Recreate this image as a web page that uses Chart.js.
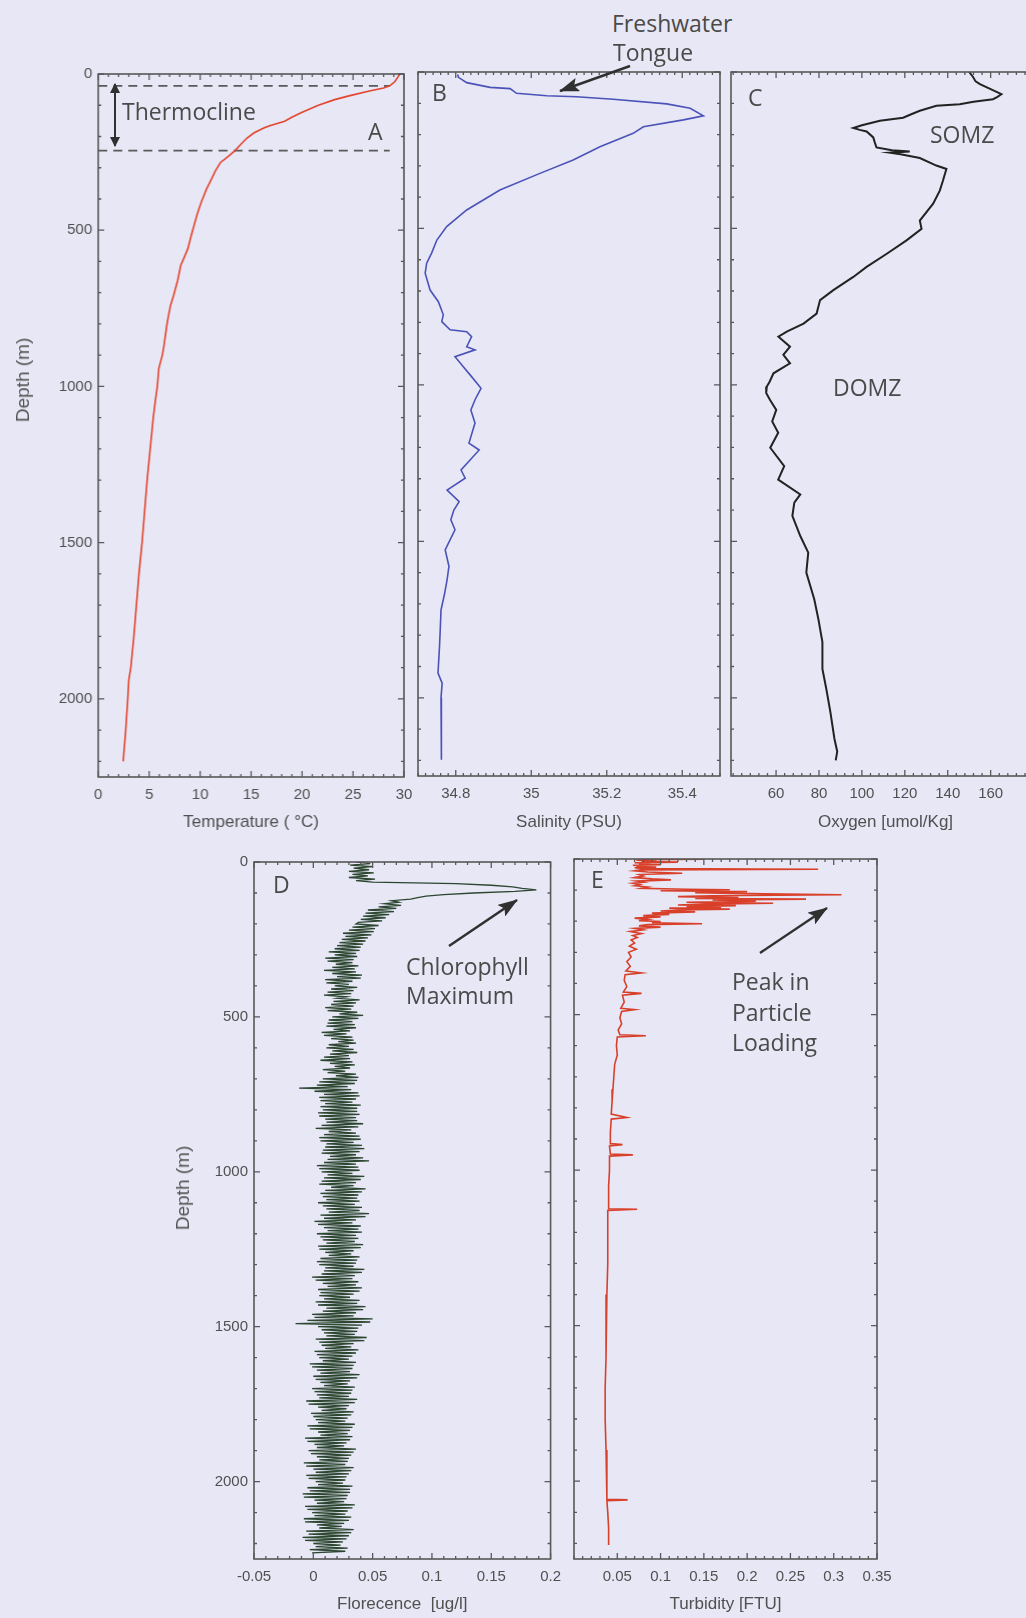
<!DOCTYPE html>
<html><head><meta charset="utf-8">
<script src="https://cdn.jsdelivr.net/npm/chart.js@4/dist/chart.umd.min.js"></script>
<style>
html,body{margin:0;padding:0;background:#e7e7f6;width:1026px;height:1618px;overflow:hidden;position:relative;}
canvas{position:absolute;}
.ann{position:absolute;font-family:"Open Sans",sans-serif;font-size:23px;line-height:23px;color:#4a4a4a;white-space:nowrap;}
.ylab{position:absolute;font-family:"Liberation Sans",Arial,sans-serif;font-size:19px;color:#555;white-space:nowrap;transform:translate(-50%,-50%) rotate(-90deg);}
#arrows{position:absolute;left:0;top:0;pointer-events:none;}
</style></head><body>
<script>
// ---------------- DATA ----------------
const depthTicks = [0, 500, 1000, 1500, 2000];

// Panel A : temperature
const tempDepth = [0,10,25,38,45,55,70,82,100,124,140,151,165,172,188,205,225,246,265,283,310,337,370,411,450,485,520,559,590,612,660,708,740,772,800,835,870,899,942,1000,1048,1100,1150,1200,1300,1400,1500,1600,1700,1800,1900,1940,2000,2100,2200];
const tempValues = [29.6,29.4,29.1,28.6,28.0,26.5,24.6,23.2,21.6,19.9,18.9,18.3,16.9,16.3,15.3,14.6,14.0,13.4,12.7,12.0,11.5,11.1,10.6,10.1,9.7,9.4,9.1,8.8,8.4,8.1,7.8,7.4,7.1,6.9,6.75,6.6,6.45,6.3,5.95,5.8,5.6,5.4,5.25,5.1,4.8,4.55,4.3,4.0,3.75,3.5,3.2,3.0,2.9,2.7,2.45];
const tempTicks = [0, 5, 10, 15, 20, 25, 30];
const thermoclineDepths = [38, 245];
const thermoclineSpan = [0, 28.6];

// Panel B : salinity
const salDepth = [8,17,34,49,53,68,76,79,87,102,116,140,153,175,196,239,281,324,377,441,494,537,579,611,643,697,734,776,798,824,830,846,878,888,910,942,968,1000,1011,1045,1080,1122,1186,1208,1240,1272,1298,1336,1373,1400,1431,1463,1527,1580,1623,1670,1719,1780,1836,1921,1953,2000,2049,2198];
const salValues = [34.805,34.807,34.829,34.891,34.944,34.961,35.041,35.120,35.217,35.359,35.421,35.456,35.403,35.297,35.270,35.182,35.111,35.023,34.917,34.829,34.776,34.750,34.736,34.723,34.719,34.732,34.754,34.767,34.763,34.785,34.829,34.842,34.829,34.851,34.798,34.820,34.838,34.860,34.867,34.852,34.840,34.851,34.835,34.862,34.838,34.814,34.825,34.777,34.809,34.795,34.787,34.798,34.772,34.782,34.777,34.770,34.761,34.759,34.757,34.753,34.764,34.761,34.762,34.762];
const salTicks = [34.8, 35, 35.2, 35.4];

// Panel C : oxygen
const oxyDepth = [0,16,30,39,55,71,80,87,95,103,108,124,135,146,156,170,179,185,190,209,225,241,250,254,258,263,275,299,310,330,347,379,421,475,501,538,581,623,655,697,729,772,804,830,846,878,904,931,963,990,1005,1026,1048,1080,1117,1153,1201,1260,1303,1350,1376,1419,1483,1536,1600,1685,1748,1822,1908,1971,2045,2131,2172,2200];
const oxyValues = [150,151.8,153,155,160,165,163,161.1,152,145.6,134.7,127,123,119.2,108.4,100,96,99,102.2,105.3,106,106.8,114,122.3,113,118,127,134.7,139.4,138.5,137.8,136.3,133.2,127,127.8,120.8,111.6,102.2,96,86.7,80.5,78.9,72.8,65,61.1,66.5,63.4,66.5,58.8,57,55.7,55.4,57.2,60.1,58.2,61,57.3,63.8,61,71.3,68.5,67.6,71.3,75,74.1,77.8,79.7,81.6,81.6,83.4,85.3,87.2,88.5,87.8];
const oxyTicks = [60, 80, 100, 120, 140, 160];

// Panel D : fluorescence, one reading every 5 m from the surface
const fluorStartDepth = 0;
const fluorDepthStep = 5;
const fluorValues = [
 0.036,0.048,0.031,0.050,0.034,0.047,0.030,0.051,0.033,0.046,
 0.030,0.052,0.036,0.050,0.120,0.150,0.168,0.176,0.188,0.170,
 0.135,0.110,0.095,0.088,0.082,0.066,0.072,0.060,0.074,0.055,
 0.070,0.046,0.068,0.044,0.064,0.042,0.061,0.040,0.058,0.038,
 0.036,0.055,0.033,0.052,0.030,0.051,0.025,0.049,0.027,0.046,
 0.024,0.044,0.022,0.042,0.020,0.040,0.018,0.039,0.013,0.036,
 0.018,0.037,0.010,0.034,0.012,0.033,0.019,0.038,0.016,0.035,
 0.009,0.036,0.016,0.041,0.020,0.040,0.010,0.033,0.011,0.030,
 0.018,0.037,0.015,0.034,0.012,0.032,0.009,0.028,0.020,0.039,
 0.017,0.036,0.015,0.034,0.010,0.032,0.012,0.037,0.022,0.042,
 0.016,0.038,0.013,0.033,0.012,0.035,0.011,0.036,0.017,0.031,
 0.007,0.028,0.009,0.033,0.015,0.034,0.021,0.036,0.013,0.030,
 0.011,0.034,0.016,0.037,0.014,0.030,0.009,0.031,0.006,0.033,
 0.014,0.035,0.018,0.031,0.008,0.027,0.012,0.036,0.019,0.038,
 0.008,0.037,0.005,0.035,0.003,0.029,-0.012,0.032,0.001,0.038,
 0.009,0.039,0.005,0.036,0.006,0.033,0.010,0.040,0.006,0.037,
 0.008,0.037,0.004,0.039,0.005,0.036,0.010,0.037,0.011,0.042,
 0.007,0.038,0.002,0.032,0.013,0.036,0.009,0.039,0.005,0.040,
 0.006,0.034,0.011,0.041,0.010,0.043,0.008,0.039,0.007,0.036,
 0.014,0.042,0.012,0.047,0.009,0.036,0.003,0.038,0.005,0.039,
 0.007,0.033,0.012,0.043,0.009,0.040,0.007,0.036,0.005,0.034,
 0.015,0.044,0.010,0.041,0.006,0.038,0.008,0.037,0.011,0.039,
 0.004,0.035,0.008,0.041,0.011,0.039,0.013,0.047,0.006,0.044,
 0.009,0.036,0.001,0.033,0.004,0.040,0.009,0.038,0.012,0.041,
 0.003,0.036,0.006,0.038,0.008,0.035,0.011,0.042,0.004,0.040,
 0.005,0.034,0.010,0.032,0.013,0.039,0.006,0.037,0.003,0.036,
 0.005,0.034,0.010,0.043,0.009,0.041,0.007,0.035,-0.001,0.033,
 0.002,0.038,0.008,0.036,0.012,0.041,0.004,0.039,0.006,0.034,
 0.005,0.031,0.009,0.039,0.002,0.037,0.004,0.044,0.011,0.042,
 0.008,0.036,-0.001,0.034,0.001,0.050,-0.005,0.048,-0.015,0.041,
 0.004,0.038,0.007,0.037,0.009,0.035,0.011,0.045,0.002,0.043,
 0.005,0.034,0.007,0.032,0.010,0.038,0.001,0.036,0.003,0.033,
 0.005,0.030,0.008,0.036,-0.003,0.034,-0.001,0.033,0.003,0.031,
 0.006,0.039,0.000,0.037,0.002,0.031,0.006,0.029,0.009,0.035,
 -0.001,0.033,0.001,0.032,0.003,0.030,0.005,0.037,-0.006,0.035,
 -0.004,0.030,0.004,0.028,0.007,0.034,-0.002,0.032,0.000,0.029,
 0.002,0.027,0.004,0.035,-0.005,0.033,-0.003,0.031,0.004,0.029,
 0.006,0.033,-0.007,0.031,-0.005,0.028,0.001,0.026,0.003,0.036,
 -0.004,0.034,-0.002,0.032,0.003,0.030,0.005,0.029,-0.008,0.027,
 -0.006,0.034,0.000,0.032,0.002,0.030,-0.006,0.028,-0.004,0.027,
 0.002,0.025,0.004,0.033,-0.005,0.031,-0.003,0.031,-0.009,0.029,
 -0.008,0.028,0.001,0.026,0.003,0.035,-0.007,0.033,-0.005,0.029,
 -0.001,0.027,0.001,0.032,-0.008,0.030,-0.007,0.026,0.003,0.024,
 0.005,0.034,-0.006,0.032,-0.004,0.030,-0.009,0.028,-0.007,0.025,
 0.000,0.023,0.002,0.029,-0.003,0.027,-0.001];
const fluorTicks = [-0.05, 0, 0.05, 0.1, 0.15, 0.2];

// Panel E : turbidity
const turbDepth = [0,1,2,4,6,8,10,12,14,16,18,20,22,24,26,28,31,33,35,38,42,46,50,55,60,64,67,71,75,78,82,86,90,94,97,99,102,105,108,112,115,118,121,124,127,129,132,136,139,142,145,148,150,153,156,158,161,164,167,170,174,178,182,186,190,194,198,201,205,208,211,215,219,223,228,233,240,246,252,260,270,280,290,300,315,330,345,360,366,372,390,410,428,432,438,460,480,484,490,510,530,550,565,568,572,600,630,660,700,740,780,820,831,836,880,915,918,922,948,951,955,1000,1050,1100,1124,1126,1130,1200,1300,1400,1500,1600,1700,1800,1900,2000,2058,2060,2063,2100,2150,2205];
const turbValues = [0.085,0.15,0.08,0.072,0.095,0.078,0.12,0.07,0.088,0.075,0.1,0.068,0.083,0.072,0.095,0.07,0.08,0.282,0.078,0.07,0.085,0.125,0.075,0.08,0.07,0.09,0.112,0.072,0.08,0.068,0.076,0.07,0.085,0.078,0.13,0.18,0.1,0.2,0.14,0.22,0.309,0.16,0.12,0.19,0.14,0.268,0.16,0.21,0.13,0.23,0.15,0.12,0.187,0.13,0.17,0.11,0.18,0.12,0.1,0.14,0.09,0.11,0.08,0.1,0.07,0.085,0.075,0.1,0.09,0.148,0.085,0.075,0.1,0.07,0.08,0.065,0.078,0.068,0.073,0.066,0.07,0.064,0.072,0.063,0.066,0.061,0.065,0.06,0.078,0.059,0.058,0.061,0.057,0.078,0.056,0.058,0.054,0.07,0.055,0.053,0.055,0.051,0.053,0.083,0.05,0.049,0.05,0.047,0.046,0.045,0.044,0.043,0.061,0.043,0.042,0.042,0.056,0.041,0.042,0.068,0.041,0.041,0.040,0.040,0.040,0.073,0.039,0.039,0.039,0.038,0.037,0.037,0.036,0.036,0.037,0.038,0.038,0.062,0.038,0.039,0.040,0.040];
const turbTicks = [0.05, 0.1, 0.15, 0.2, 0.25, 0.3, 0.35];

// ---------------- RENDERING ----------------
const FONT = '"Liberation Sans", Arial, Helvetica, sans-serif';
Chart.defaults.font.family = FONT;

const framePlugin = {
  id: 'frame',
  afterDraw(chart, args, opts) {
    const {ctx, chartArea: a} = chart;
    const xs = chart.scales.x, ys = chart.scales.y;
    ctx.save();
    ctx.strokeStyle = '#585858';
    ctx.lineWidth = 1.6;
    ctx.strokeRect(a.left, a.top, a.right - a.left, a.bottom - a.top);
    ctx.lineWidth = 1.3;
    ctx.beginPath();
    const xM = xs.ticks.map(t => t.value), yM = ys.ticks.map(t => t.value);
    for (let i = 0; i < 500; i++) {
      const v = opts.xStart + i * opts.xStep;
      if (v > xs.max + 1e-9) break;
      if (v < xs.min - 1e-9) continue;
      const p = xs.getPixelForValue(v);
      const len = xM.some(m => Math.abs(m - v) < opts.xStep / 10) ? 6 : 3;
      ctx.moveTo(p, a.bottom); ctx.lineTo(p, a.bottom - len);
      ctx.moveTo(p, a.top); ctx.lineTo(p, a.top + len);
    }
    for (let i = 0; i < 500; i++) {
      const v = i * opts.yStep;
      if (v > ys.max + 1e-9) break;
      const p = ys.getPixelForValue(v);
      const len = yM.some(m => Math.abs(m - v) < 1) ? 6 : 3;
      ctx.moveTo(a.left, p); ctx.lineTo(a.left + len, p);
      ctx.moveTo(a.right, p); ctx.lineTo(a.right - len, p);
    }
    ctx.stroke();
    ctx.restore();
  }
};

function profile(depths, values) {
  return depths.map((d, i) => ({x: values[i], y: d}));
}

function makePanel(g) {
  const c = document.createElement('canvas');
  const w = g.right - g.left + g.padL + g.padR;
  const h = g.bottom - g.top + g.padT + g.padB;
  c.width = w; c.height = h;
  c.style.left = (g.left - g.padL) + 'px';
  c.style.top = (g.top - g.padT) + 'px';
  c.style.width = w + 'px'; c.style.height = h + 'px';
  document.body.appendChild(c);
  new Chart(c, {
    type: 'scatter',
    data: {datasets: g.datasets},
    options: {
      responsive: false, animation: false, devicePixelRatio: 1,
      layout: {padding: {left: 0, top: g.padT, right: g.padR, bottom: 0}},
      plugins: {legend: {display: false}, tooltip: {enabled: false},
        frame: {xStart: g.xStart, xStep: g.xStep, yStep: 100}},
      elements: {point: {radius: 0}, line: {tension: 0}},
      scales: {
        x: {
          type: 'linear', position: 'bottom', min: g.xmin, max: g.xmax,
          afterBuildTicks: s => { s.ticks = g.xTicks.map(v => ({value: v})); },
          afterFit: s => { s.height = g.padB; },
          grid: {display: false, drawTicks: false}, border: {display: false},
          ticks: {font: {size: 15}, color: '#505050', padding: 9, maxRotation: 0, autoSkip: false,
                  callback: v => String(v)},
          title: {display: true, text: g.title, font: {size: 17}, color: '#505050',
                  padding: {top: 0, bottom: g.titlePad}}
        },
        y: {
          type: 'linear', reverse: true, min: 0, max: 2250,
          afterBuildTicks: s => { s.ticks = depthTicks.map(v => ({value: v})); },
          afterFit: s => { s.width = g.padL; },
          grid: {display: false, drawTicks: false}, border: {display: false},
          ticks: {display: g.yLabels, font: {size: 15}, color: '#505050', padding: 6, autoSkip: false,
                  callback: v => String(v)}
        }
      }
    },
    plugins: [framePlugin]
  });
}

function line(data, color, width, dash) {
  return {data, borderColor: color, borderWidth: width, borderDash: dash || [],
          showLine: true, pointRadius: 0, fill: false};
}

// Panel A
makePanel({
  left: 98, right: 403.5, top: 71, bottom: 777, padL: 90, padR: 25, padT: 12, padB: 60, titlePad: 4,
  xmin: 0, xmax: 30, xTicks: tempTicks, xStart: 0, xStep: 1, yLabels: true,
  title: 'Temperature ( \u00B0C)',
  datasets: [
    line(profile(tempDepth, tempValues), '#e2442c', 1.6),
    line(thermoclineSpan.map(x => ({x, y: thermoclineDepths[0]})), '#5a5a5a', 1.8, [9, 6]),
    line(thermoclineSpan.map(x => ({x, y: thermoclineDepths[1]})), '#5a5a5a', 1.8, [9, 6])
  ]
});
// Panel B
makePanel({
  left: 418, right: 720, top: 72, bottom: 776, padL: 8, padR: 25, padT: 12, padB: 60, titlePad: 3,
  xmin: 34.7, xmax: 35.5, xTicks: salTicks, xStart: 34.7, xStep: 0.02, yLabels: false,
  title: 'Salinity (PSU)',
  datasets: [line(profile(salDepth, salValues), '#4b52b8', 1.6)]
});
// Panel C
makePanel({
  left: 730.5, right: 1040, top: 72, bottom: 776, padL: 8, padR: 10, padT: 12, padB: 60, titlePad: 3,
  xmin: 39, xmax: 183, xTicks: oxyTicks, xStart: 40, xStep: 4, yLabels: false,
  title: 'Oxygen [umol/Kg]',
  datasets: [line(profile(oxyDepth, oxyValues), '#222222', 2)]
});
// Panel D
const fluorDepth = fluorValues.map((v, i) => fluorStartDepth + i * fluorDepthStep);
makePanel({
  left: 254, right: 558, top: 859, bottom: 1559, padL: 90, padR: 12, padT: 12, padB: 58, titlePad: 2,
  xmin: -0.05, xmax: 0.2, xTicks: fluorTicks, xStart: -0.05, xStep: 0.01, yLabels: true,
  title: 'Florecence  [ug/l]',
  datasets: [line(profile(fluorDepth, fluorValues), '#2c4630', 1.3)]
});
// Panel E
makePanel({
  left: 574, right: 877, top: 859, bottom: 1559, padL: 8, padR: 25, padT: 12, padB: 58, titlePad: 2,
  xmin: 0, xmax: 0.35, xTicks: turbTicks, xStart: 0, xStep: 0.01, yLabels: false,
  title: 'Turbidity [FTU]',
  datasets: [line(profile(turbDepth, turbValues), '#d8402a', 1.6)]
});
</script>

<div class="ylab" style="left:23px;top:380px">Depth (m)</div>
<div class="ylab" style="left:183px;top:1188px">Depth (m)</div>

<div class="ann" style="left:122px;top:100px">Thermocline</div>
<div class="ann" style="left:368px;top:120px">A</div>
<div class="ann" style="left:432px;top:81px">B</div>
<div class="ann" style="left:748px;top:86px">C</div>
<div class="ann" style="left:612px;top:12px">Freshwater</div>
<div class="ann" style="left:613px;top:41px">Tongue</div>
<div class="ann" style="left:930px;top:123px">SOMZ</div>
<div class="ann" style="left:833px;top:376px">DOMZ</div>
<div class="ann" style="left:273px;top:873px">D</div>
<div class="ann" style="left:406px;top:955px">Chlorophyll</div>
<div class="ann" style="left:406px;top:984px">Maximum</div>
<div class="ann" style="left:591px;top:868px">E</div>
<div class="ann" style="left:732px;top:970px">Peak in</div>
<div class="ann" style="left:732px;top:1001px">Particle</div>
<div class="ann" style="left:732px;top:1031px">Loading</div>

<svg id="arrows" width="1026" height="1618">
<defs>
<marker id="big" viewBox="0 0 20 14" refX="19" refY="7" markerWidth="20" markerHeight="14" markerUnits="userSpaceOnUse" orient="auto"><path d="M0,0 L20,7 L0,14 L4,7 z" fill="#303030"/></marker>
<marker id="small" viewBox="0 0 10 10" refX="9" refY="5" markerWidth="10" markerHeight="10" markerUnits="userSpaceOnUse" orient="auto-start-reverse"><path d="M0,0 L10,5 L0,10 z" fill="#303030"/></marker>
</defs>
<line x1="115" y1="84" x2="115" y2="146" stroke="#303030" stroke-width="2" marker-start="url(#small)" marker-end="url(#small)"/>
<line x1="630" y1="66" x2="560" y2="91" stroke="#303030" stroke-width="2.4" marker-end="url(#big)"/>
<line x1="449" y1="946" x2="517" y2="900" stroke="#303030" stroke-width="2.4" marker-end="url(#big)"/>
<line x1="760" y1="953" x2="827" y2="908" stroke="#303030" stroke-width="2.4" marker-end="url(#big)"/>
</svg>
</body></html>
